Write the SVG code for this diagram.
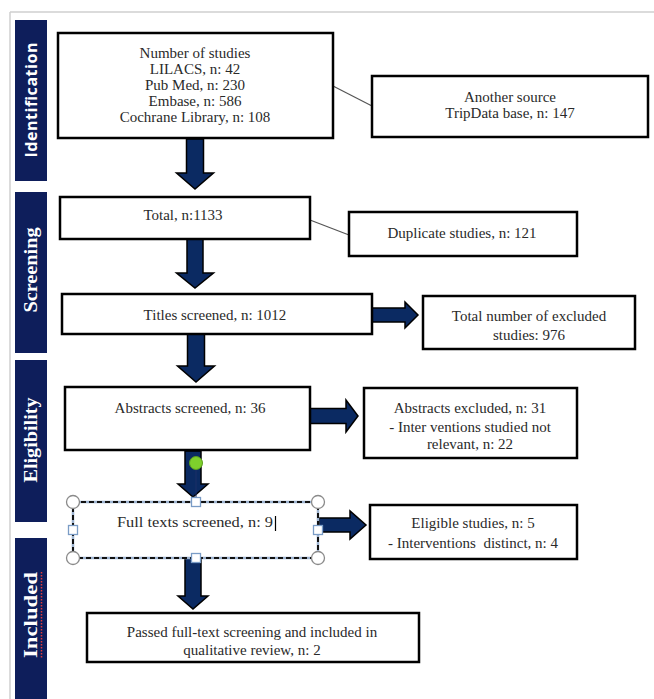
<svg xmlns="http://www.w3.org/2000/svg" width="654" height="699" viewBox="0 0 654 699">
<style>
.box{fill:#fff;stroke:#000;stroke-width:2.5}
.t{font-family:"Liberation Serif","Times New Roman",serif;font-size:15px;fill:#2a2a2a;text-anchor:middle}
.bar{fill:#0e1e5b}
.bt{font-family:"Liberation Serif",serif;font-weight:bold;font-size:19px;fill:#fff;text-anchor:middle}
.bts{font-family:"Open Sans","Liberation Sans",sans-serif;font-weight:bold;font-size:16px;fill:#fff;text-anchor:middle}
.arr{fill:#0b2a62;stroke:#000;stroke-width:1.5;stroke-linejoin:miter}
.ln{stroke:#555;stroke-width:1.2;fill:none}
.hc{fill:#fff;stroke:#8a8a8a;stroke-width:1.3}
.hs{fill:#fff;stroke:#7a9cc6;stroke-width:1.3}
</style>
<rect width="654" height="699" fill="#fff"/>
<g id="frame">
<line x1="10" y1="12" x2="654" y2="12" stroke="#cfcfcf" stroke-width="1.5"/>
<line x1="10" y1="12" x2="10" y2="699" stroke="#cfcfcf" stroke-width="1.5"/>
</g>
<g id="stage-identification">
<rect class="bar" x="15" y="20" width="32" height="161"/>
<text class="bts" transform="translate(37,100) rotate(-90)" textLength="115" lengthAdjust="spacing">Identification</text>
</g>
<g id="stage-screening">
<rect class="bar" x="15" y="192" width="32" height="161"/>
<text class="bt" transform="translate(37,270) rotate(-90)" textLength="85" lengthAdjust="spacingAndGlyphs">Screening</text>
</g>
<g id="stage-eligibility">
<rect class="bar" x="15" y="360" width="32" height="162"/>
<text class="bt" transform="translate(37,440) rotate(-90)" textLength="85" lengthAdjust="spacingAndGlyphs">Eligibility</text>
</g>
<g id="stage-included">
<rect class="bar" x="15" y="538" width="32" height="161"/>
<text class="bt" transform="translate(37,615) rotate(-90)" textLength="86" lengthAdjust="spacingAndGlyphs">Included</text>
<line x1="41.5" y1="572" x2="41.5" y2="658" stroke="#e23b3b" stroke-width="1.5" stroke-dasharray="1.5 1.5"/>
</g>
<g id="connectors">
<line class="ln" x1="333" y1="86" x2="372" y2="106"/>
<line class="ln" x1="310" y1="220" x2="349" y2="235"/>
<polygon class="arr" points="186.5,139 203.5,139 203.5,173 213.5,173 195,189 176.5,173 186.5,173"/>
<polygon class="arr" points="187,239 203,239 203,273 213.5,273 195,288 176.5,273 187,273"/>
<polygon class="arr" points="187.5,334 204.5,334 204.5,366 214.5,366 196,382 177.5,366 187.5,366"/>
<polygon class="arr" points="185,451 201,451 201,484 208,484 193,497 178,484 185,484"/>
<polygon class="arr" points="185,558 201,558 201,596 208,596 193,609 178,596 185,596"/>
<polygon class="arr" points="372,308 405,308 405,302 418,315 405,328 405,322 372,322"/>
<polygon class="arr" points="310,408.5 346,408.5 346,400 358,416 346,432 346,423.5 310,423.5"/>
<polygon class="arr" points="319,518 350,518 350,511 366,525 350,539 350,532 319,532"/>
</g>
<g id="n-sources">
<rect class="box" x="58" y="33" width="275" height="105"/>
<text class="t" x="195" y="58">Number of studies</text>
<text class="t" x="195" y="74">LILACS, n: 42</text>
<text class="t" x="195" y="90">Pub Med, n: 230</text>
<text class="t" x="195" y="106">Embase, n: 586</text>
<text class="t" x="195" y="122">Cochrane Library, n: 108</text>
</g>
<g id="n-another">
<rect class="box" x="372" y="76" width="276" height="61"/>
<text class="t" x="510" y="102">Another source</text>
<text class="t" x="510" y="118">TripData base, n: 147</text>
</g>
<g id="n-total">
<rect class="box" x="60" y="197" width="250" height="42"/>
<text class="t" x="183" y="220">Total, n:1133</text>
</g>
<g id="n-duplicate">
<rect class="box" x="349" y="212" width="228" height="44"/>
<text class="t" x="462" y="238">Duplicate studies, n: 121</text>
</g>
<g id="n-titles">
<rect class="box" x="62" y="294" width="310" height="40"/>
<text class="t" x="215" y="320">Titles screened, n: 1012</text>
</g>
<g id="n-excluded">
<rect class="box" x="423" y="296" width="212" height="53"/>
<text class="t" x="529" y="321">Total number of excluded</text>
<text class="t" x="529" y="340">studies: 976</text>
</g>
<g id="n-abstracts">
<rect class="box" x="65" y="387" width="245" height="63"/>
<text class="t" x="190" y="413">Abstracts screened, n: 36</text>
</g>
<g id="n-abs-excluded">
<rect class="box" x="364" y="388" width="213" height="70"/>
<text class="t" x="470" y="413">Abstracts excluded, n: 31</text>
<text class="t" x="470" y="432">- Inter ventions studied not</text>
<text class="t" x="470" y="449">relevant, n: 22</text>
</g>
<g id="n-fulltext">
<rect x="73" y="502" width="245" height="56" fill="#fff" stroke="#9db3d0" stroke-width="2.5"/>
<rect x="73" y="502" width="245" height="56" fill="none" stroke="#111" stroke-width="2" stroke-dasharray="5 3"/>
<text class="t" x="117" y="527" style="text-anchor:start" textLength="156" lengthAdjust="spacingAndGlyphs">Full texts screened, n: 9</text>
<line x1="275.5" y1="516" x2="275.5" y2="531" stroke="#000" stroke-width="1.2"/>
<line x1="196" y1="463" x2="196" y2="502" stroke="#1d2f66" stroke-width="1"/>
<circle cx="196" cy="463" r="6.5" fill="#7ed02c" stroke="#5c9e1e" stroke-width="1"/>
<circle class="hc" cx="73" cy="502" r="6.5"/>
<circle class="hc" cx="318" cy="502" r="6.5"/>
<circle class="hc" cx="73" cy="558" r="6.5"/>
<circle class="hc" cx="318" cy="558" r="6.5"/>
<rect class="hs" x="191.5" y="497.5" width="9" height="9"/>
<rect class="hs" x="191.5" y="553.5" width="9" height="9"/>
<rect class="hs" x="68.5" y="525.5" width="9" height="9"/>
<rect class="hs" x="313.5" y="525.5" width="9" height="9"/>
</g>
<g id="n-eligible">
<rect class="box" x="370" y="505" width="207" height="54"/>
<text class="t" x="473" y="528">Eligible studies, n: 5</text>
<text class="t" x="473" y="548" style="white-space:pre">- Interventions  distinct, n: 4</text>
</g>
<g id="n-included">
<rect class="box" x="87" y="613" width="332" height="49"/>
<text class="t" x="252" y="637">Passed full-text screening and included in</text>
<text class="t" x="252" y="655">qualitative review, n: 2</text>
</g>
</svg>
